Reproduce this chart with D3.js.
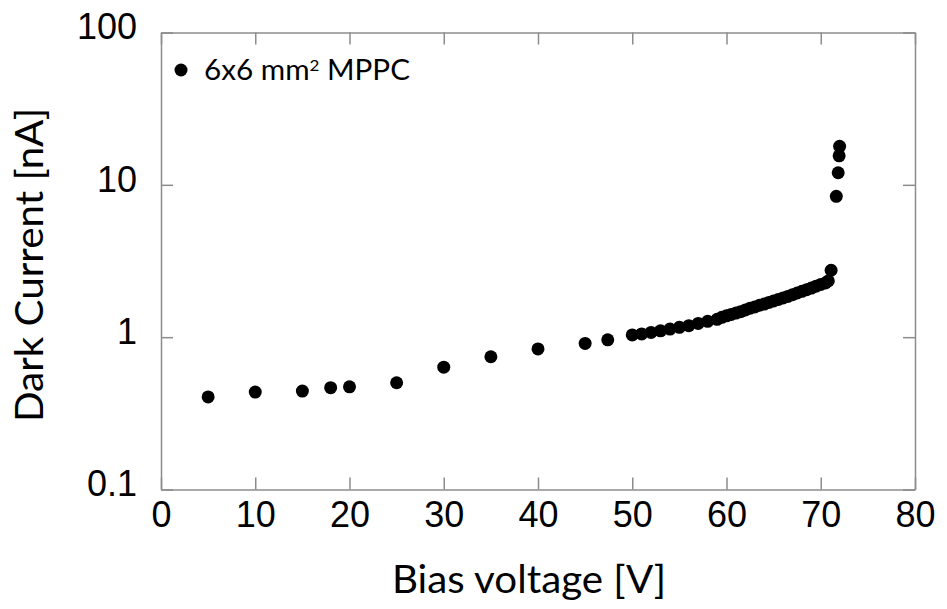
<!DOCTYPE html>
<html>

<head>
  <script src="https://d3js.org/d3.v7.min.js"></script>
  <style>
    body {
      margin: 0;
      background: white;
    }

    .axis path,
    .axis line {
      stroke: #8c8c8c;
      stroke-width: 1.5px;
    }

    .axis text {
      font-family: 'Liberation Sans', Arial, sans-serif;
      font-size: 36px;
      fill: black;
    }

    .title {
      font-family: Lato, 'Open Sans', sans-serif;
      fill: black;
    }
  </style>
</head>

<body>
  <div id="chart"></div>
  <script>
    // bias voltage [V] and dark current [nA]
    const voltage = [5, 10, 15, 18, 20, 25, 30, 35, 40, 45, 47.4,
      50, 51, 52, 53, 54, 55, 56, 57, 58, 59,
      59.5, 60, 60.5, 61, 61.5, 62, 62.5, 63, 63.5, 64, 64.5, 65, 65.5, 66,
      66.5, 67, 67.5, 68, 68.5, 69, 69.5, 70, 70.5, 70.8, 71.1,
      71.65, 71.85, 71.95, 72.0];
    const current = [0.405, 0.436, 0.443, 0.466, 0.472, 0.502, 0.635, 0.744, 0.837, 0.91, 0.96,
      1.035, 1.05, 1.075, 1.10, 1.13, 1.16, 1.19, 1.23, 1.27, 1.31,
      1.35, 1.38, 1.41, 1.44, 1.47, 1.51, 1.55, 1.58, 1.62, 1.65, 1.69, 1.73, 1.77, 1.81,
      1.85, 1.90, 1.95, 2.00, 2.05, 2.10, 2.16, 2.22, 2.27, 2.34, 2.75,
      8.4, 12.0, 15.5, 17.9];

    const xTicks = [0, 10, 20, 30, 40, 50, 60, 70, 80];
    const yTicks = [0.1, 1, 10, 100];
    const yTickLabels = ["0.1", "1", "10", "100"];

    const data = voltage.map((v, i) => ({ v: v, i: current[i] }));

    const width = 947;
    const height = 609;
    const margin = { top: 32.5, right: 32, bottom: 119.5, left: 161 };

    const svg = d3.select("#chart")
      .append("svg")
      .attr("width", width)
      .attr("height", height);

    const xScale = d3.scaleLinear()
      .domain([0, 80])
      .range([margin.left, width - margin.right]);

    const yScale = d3.scaleLog()
      .domain([0.1, 100])
      .range([height - margin.bottom, margin.top]);

    // axes with inward ticks on all four sides
    const xAxis = svg.append("g")
      .attr("class", "axis")
      .attr("transform", `translate(0, ${height - margin.bottom})`)
      .call(d3.axisBottom(xScale).tickValues(xTicks).tickSize(-12).tickSizeOuter(0));
    xAxis.selectAll("text")
      .attr("y", 37.5)
      .attr("dy", null);

    svg.append("g")
      .attr("class", "axis")
      .attr("transform", `translate(0, ${margin.top})`)
      .call(d3.axisTop(xScale).tickValues(xTicks).tickSize(-12).tickSizeOuter(0).tickFormat(""));

    const yAxis = svg.append("g")
      .attr("class", "axis")
      .attr("transform", `translate(${margin.left}, 0)`)
      .call(d3.axisLeft(yScale).tickValues(yTicks).tickSize(-12).tickSizeOuter(0).tickPadding(24)
        .tickFormat((d, k) => yTickLabels[k]));
    yAxis.selectAll("text")
      .attr("dy", "0.18em");

    svg.append("g")
      .attr("class", "axis")
      .attr("transform", `translate(${width - margin.right}, 0)`)
      .call(d3.axisRight(yScale).tickValues(yTicks).tickSize(-12).tickSizeOuter(0).tickFormat(""));

    svg.selectAll(".dot")
      .data(data)
      .enter().append("circle")
      .attr("class", "dot")
      .attr("cx", d => xScale(d.v))
      .attr("cy", d => yScale(d.i))
      .attr("r", 6.5)
      .attr("fill", "black");

    // legend
    svg.append("circle")
      .attr("cx", 181)
      .attr("cy", 70)
      .attr("r", 6.5)
      .attr("fill", "black");

    const legend = svg.append("text")
      .attr("class", "title")
      .attr("x", 204)
      .attr("y", 80)
      .attr("font-size", 28)
      .attr("textLength", 206)
      .attr("lengthAdjust", "spacingAndGlyphs");
    legend.append("tspan").text("6x6 mm");
    legend.append("tspan").attr("font-size", 16).attr("dy", -9).text("2");
    legend.append("tspan").attr("dy", 9).text(" MPPC");

    // axis titles
    svg.append("text")
      .attr("class", "title")
      .attr("x", 392)
      .attr("y", 593)
      .attr("font-size", 39)
      .attr("textLength", 274)
      .attr("lengthAdjust", "spacingAndGlyphs")
      .text("Bias voltage [V]");

    svg.append("text")
      .attr("class", "title")
      .attr("transform", "translate(43, 422) rotate(-90)")
      .attr("font-size", 39)
      .attr("textLength", 314)
      .attr("lengthAdjust", "spacingAndGlyphs")
      .text("Dark Current [nA]");
  </script>
</body>

</html>
